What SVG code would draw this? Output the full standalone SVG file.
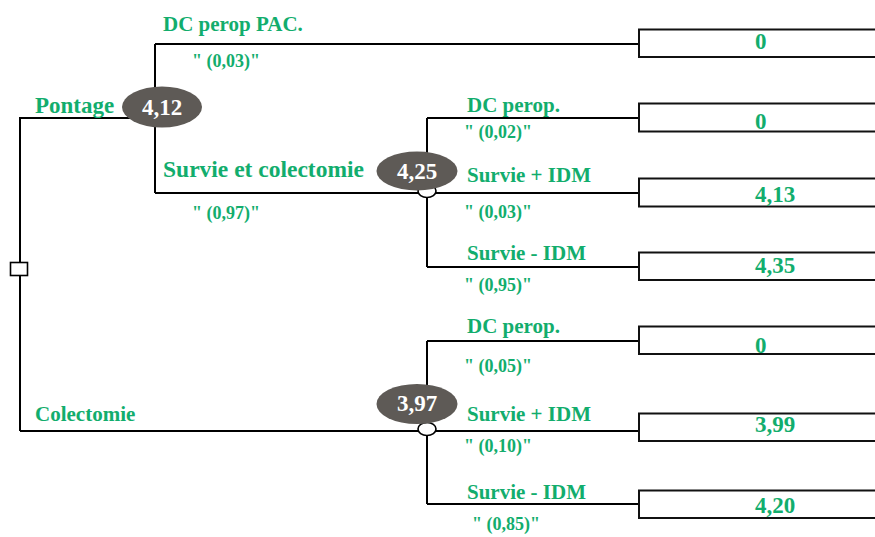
<svg xmlns="http://www.w3.org/2000/svg" width="875" height="537" viewBox="0 0 875 537">
  <style>
    .edge { fill: none; stroke: #000; stroke-width: 2; }
    .leaf { fill: #fff; stroke: #111; stroke-width: 2; }
    .lbl { font-family: "Liberation Serif", "Times New Roman", serif; font-weight: bold; fill: #12ad6d; }
    .branch { font-size: 21px; }
    .big { font-size: 23px; }
    .wide { font-size: 23.5px; }
    .prob { font-size: 18px; }
    .val { font-size: 23px; }
    .chance { fill: #5e5a56; }
    .ev { font-family: "Liberation Serif", "Times New Roman", serif; font-weight: bold; font-size: 23px; fill: #fff; text-anchor: middle; }
    .knot { fill: #fff; stroke: #000; stroke-width: 1.6; }
  </style>

  <!-- tree connectors -->
  <g id="connectors">
    <path class="edge" d="M20,431 V118 H155"/>
    <path class="edge" d="M155,44 V193"/>
    <path class="edge" d="M155,44 H640"/>
    <path class="edge" d="M155,193 H427"/>
    <path class="edge" d="M427,118 V267"/>
    <path class="edge" d="M427,118 H640 M427,193 H640 M427,267 H640"/>
    <path class="edge" d="M20,431 H427"/>
    <path class="edge" d="M427,341 V504"/>
    <path class="edge" d="M427,341 H640 M427,431 H640 M427,504 H640"/>
  </g>

  <!-- decision node -->
  <g id="decision">
    <rect x="10.5" y="262.5" width="17" height="13" fill="#fff" stroke="#000" stroke-width="1.6"/>
  </g>

  <!-- branch labels -->
  <g id="labels">
    <text class="lbl big" x="35" y="113">Pontage</text>
    <text class="lbl branch" x="35" y="421">Colectomie</text>
    <text class="lbl branch" x="163" y="31">DC perop PAC.</text>
    <text class="lbl prob" x="192" y="67">" (0,03)"</text>
    <text class="lbl wide" x="163" y="177">Survie et colectomie</text>
    <text class="lbl prob" x="192" y="219">" (0,97)"</text>

    <text class="lbl branch" x="467" y="112">DC perop.</text>
    <text class="lbl prob" x="464" y="138">" (0,02)"</text>
    <text class="lbl branch" x="467" y="182">Survie + IDM</text>
    <text class="lbl prob" x="464" y="218">" (0,03)"</text>
    <text class="lbl branch" x="467" y="260">Survie - IDM</text>
    <text class="lbl prob" x="464" y="291">" (0,95)"</text>

    <text class="lbl branch" x="467" y="333">DC perop.</text>
    <text class="lbl prob" x="464" y="372">" (0,05)"</text>
    <text class="lbl branch" x="467" y="421">Survie + IDM</text>
    <text class="lbl prob" x="464" y="452">" (0,10)"</text>
    <text class="lbl branch" x="467" y="499">Survie - IDM</text>
    <text class="lbl prob" x="472" y="530">" (0,85)"</text>
  </g>

  <!-- chance nodes with expected values -->
  <g id="node-pontage">
    <ellipse class="chance" cx="162" cy="107" rx="40" ry="20.5"/>
    <text class="ev" x="162" y="115">4,12</text>
  </g>
  <g id="node-survie">
    <ellipse class="knot" cx="427" cy="191" rx="9" ry="6.5"/>
    <ellipse class="chance" cx="417" cy="171" rx="40.5" ry="19.5"/>
    <text class="ev" x="417" y="179">4,25</text>
  </g>
  <g id="node-colectomie">
    <ellipse class="knot" cx="427" cy="429" rx="9" ry="6.5"/>
    <ellipse class="chance" cx="417" cy="404" rx="40.5" ry="20"/>
    <text class="ev" x="417" y="411">3,97</text>
  </g>

  <!-- terminal outcomes -->
  <g id="leaf-1"><rect class="leaf" x="639" y="29.5" width="240" height="27.5"/><text class="lbl val" x="755" y="49">0</text></g>
  <g id="leaf-2"><rect class="leaf" x="639" y="103.5" width="240" height="28"/><text class="lbl val" x="755" y="129">0</text></g>
  <g id="leaf-3"><rect class="leaf" x="639" y="178.5" width="240" height="28"/><text class="lbl val" x="755" y="202">4,13</text></g>
  <g id="leaf-4"><rect class="leaf" x="639" y="252.5" width="240" height="27.5"/><text class="lbl val" x="755" y="273">4,35</text></g>
  <g id="leaf-5"><rect class="leaf" x="639" y="326.5" width="240" height="27.5"/><text class="lbl val" x="755" y="353">0</text></g>
  <g id="leaf-6"><rect class="leaf" x="639" y="413.5" width="240" height="27.5"/><text class="lbl val" x="755" y="432">3,99</text></g>
  <g id="leaf-7"><rect class="leaf" x="639" y="490.5" width="240" height="27.5"/><text class="lbl val" x="755" y="513">4,20</text></g>
</svg>
